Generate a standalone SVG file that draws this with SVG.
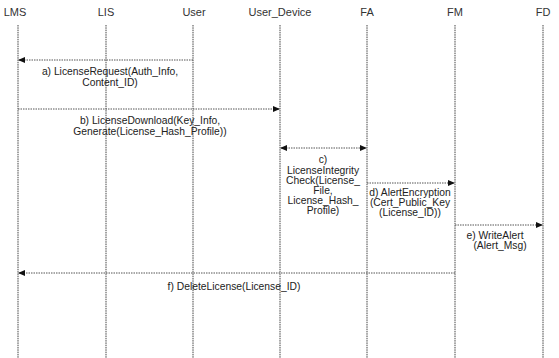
<svg xmlns="http://www.w3.org/2000/svg" width="559" height="358" viewBox="0 0 559 358">
<style>
.hdr{font-family:"Liberation Sans",Arial,sans-serif;font-size:11px;fill:#333;text-anchor:middle}
.lbl{font-family:"Liberation Sans",Arial,sans-serif;font-size:10.3px;fill:#222;text-anchor:middle}
.life{stroke:#444;stroke-width:1;stroke-dasharray:1.5,0.8;fill:none}
.msg{stroke:#555;stroke-width:1;stroke-dasharray:1.5,1;fill:none}
</style>
<defs>
<marker id="ah" markerWidth="7" markerHeight="6" refX="6" refY="3" orient="auto" markerUnits="userSpaceOnUse">
<path d="M0,0 L7,3 L0,6 Z" fill="#111"/>
</marker>
<marker id="as" markerWidth="7" markerHeight="6" refX="1" refY="3" orient="auto" markerUnits="userSpaceOnUse">
<path d="M7,0 L0,3 L7,6 Z" fill="#111"/>
</marker>
</defs>
<rect width="559" height="358" fill="#fff"/>
<g id="LMS"><text class="hdr" x="15" y="16">LMS</text><line class="life" x1="18" y1="25" x2="18" y2="358"/></g>
<g id="LIS"><text class="hdr" x="106" y="16">LIS</text><line class="life" x1="106" y1="25" x2="106" y2="358"/></g>
<g id="User"><text class="hdr" x="194" y="16">User</text><line class="life" x1="193" y1="25" x2="193" y2="358"/></g>
<g id="User_Device"><text class="hdr" x="280" y="16">User_Device</text><line class="life" x1="280" y1="25" x2="280" y2="358"/></g>
<g id="FA"><text class="hdr" x="367" y="16">FA</text><line class="life" x1="367" y1="25" x2="367" y2="358"/></g>
<g id="FM"><text class="hdr" x="455" y="16">FM</text><line class="life" x1="455" y1="25" x2="455" y2="358"/></g>
<g id="FD"><text class="hdr" x="543" y="16">FD</text><line class="life" x1="543" y1="25" x2="543" y2="358"/></g>
<g id="connectors">
<line class="msg" x1="193" y1="60" x2="19" y2="60" marker-end="url(#ah)"/>
<text class="lbl" x="110" y="75">a) LicenseRequest(Auth_Info,</text>
<text class="lbl" x="110" y="86">Content_ID)</text>
<line class="msg" x1="18" y1="109" x2="279" y2="109" marker-end="url(#ah)"/>
<text class="lbl" x="150" y="124">b) LicenseDownload(Key_Info,</text>
<text class="lbl" x="150" y="135">Generate(License_Hash_Profile))</text>
<line class="msg" x1="281" y1="148" x2="366" y2="148" marker-start="url(#as)" marker-end="url(#ah)"/>
<text class="lbl" x="323" y="163">c)</text>
<text class="lbl" x="323" y="174">LicenseIntegrity</text>
<text class="lbl" x="323" y="184">Check(License_</text>
<text class="lbl" x="323" y="194">File,</text>
<text class="lbl" x="323" y="204">License_Hash_</text>
<text class="lbl" x="323" y="214">Profile)</text>
<line class="msg" x1="367" y1="183" x2="454" y2="183" marker-end="url(#ah)"/>
<text class="lbl" x="410" y="196">d) AlertEncryption</text>
<text class="lbl" x="410" y="206">(Cert_Public_Key</text>
<text class="lbl" x="410" y="216">(License_ID))</text>
<line class="msg" x1="455" y1="225" x2="542" y2="225" marker-end="url(#ah)"/>
<text class="lbl" x="495" y="239">e) WriteAlert</text>
<text class="lbl" x="500" y="249">(Alert_Msg)</text>
<line class="msg" x1="455" y1="273" x2="19" y2="273" marker-end="url(#ah)"/>
<text class="lbl" x="234" y="290">f) DeleteLicense(License_ID)</text>
</g>
</svg>
